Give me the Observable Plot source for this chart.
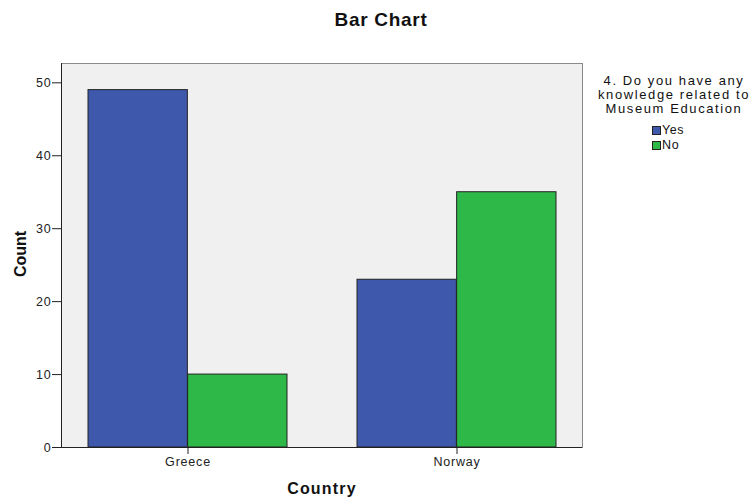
<!DOCTYPE html>
<html><head><meta charset="utf-8">
<script src="https://cdn.jsdelivr.net/npm/d3@7"></script>
<script src="https://cdn.jsdelivr.net/npm/@observablehq/plot@0.6"></script>
<style>
body{margin:0;background:#fff;}
#wrap{position:relative;width:751px;height:500px;font-family:"Liberation Sans",Arial,sans-serif;color:#111;}
#chart{position:absolute;left:0;top:0;}
.t{position:absolute;white-space:nowrap;}
#title{left:0;width:762px;text-align:center;top:9px;font-size:19px;font-weight:bold;letter-spacing:0.7px;}
#ylab{left:21px;top:254px;font-size:16px;font-weight:bold;transform:translate(-50%,-50%) rotate(-90deg);}
#xlab{left:322px;top:489px;font-size:16px;font-weight:bold;letter-spacing:1.2px;transform:translate(-50%,-50%);}
#leg{left:674px;top:74px;transform:translateX(-50%);text-align:center;font-size:13px;line-height:14px;letter-spacing:1.6px;}
.sw{position:absolute;left:652px;width:7px;height:7px;border:1px solid #222;}
.sl{position:absolute;left:662px;font-size:12.5px;letter-spacing:0.6px;line-height:13px;}
</style></head><body>
<div id="wrap">
<div id="chart"></div>
<div class="t" id="title">Bar Chart</div>
<div class="t" id="ylab">Count</div>
<div class="t" id="xlab">Country</div>
<div class="t" id="leg"></div>
<div id="legitems"></div>
</div>
<script>
const countries = ["Greece", "Norway"];
const answers = ["Yes", "No"];
const yesCounts = [49, 23];
const noCounts = [10, 35];
const yTicks = [0, 10, 20, 30, 40, 50];
const colors = ["#3E58AC", "#2EB848"];
const legendTitle = ["4. Do you have any", "knowledge related to", "Museum Education"];
const chartTitle = "Bar Chart";
const yTitle = "Count";
const xTitle = "Country";

const data = countries.flatMap((c, i) => [
  {country: c, answer: answers[0], count: yesCounts[i]},
  {country: c, answer: answers[1], count: noCounts[i]}
]);

const W = 751, H = 500, mL = 61, mR = 169, mT = 63, mB = 53;
const pIn = 0.261, pOut = 0.0965;
const step = (W - mL - mR) / (countries.length - pIn + 2 * pOut);
const half = step * (1 - pIn) / 2;

const plot = Plot.plot({
  width: W, height: H,
  marginLeft: mL, marginRight: mR, marginTop: mT, marginBottom: mB,
  style: {fontFamily: '"Liberation Sans", Arial, sans-serif', fontSize: "12.5px", color: "#222", letterSpacing: "0.8px", background: "transparent"},
  x: {type: "band", domain: countries, paddingInner: pIn, paddingOuter: pOut},
  y: {domain: [0, 52.65]},
  color: {domain: answers, range: colors},
  marks: [
    Plot.frame({fill: "#f0f0f0", stroke: "#8a8a8a"}),
    Plot.barY(data.filter(d => d.answer === answers[0]), {x: "country", y: "count", fill: "answer", stroke: "#222", strokeWidth: 1, insetLeft: 0, insetRight: half}),
    Plot.barY(data.filter(d => d.answer === answers[1]), {x: "country", y: "count", fill: "answer", stroke: "#222", strokeWidth: 1, insetLeft: half, insetRight: 0}),
    Plot.frame({anchor: "left", stroke: "#222"}),
    Plot.ruleY([0], {stroke: "#222"}),
    Plot.axisY(yTicks, {tickSize: 9, tickPadding: 1, label: null, stroke: "#222"}),
    Plot.axisX(countries, {tickSize: 7, tickPadding: 3, label: null, stroke: "#222"})
  ]
});
document.getElementById("chart").appendChild(plot);
document.getElementById("title").textContent = chartTitle;
document.getElementById("ylab").textContent = yTitle;
document.getElementById("xlab").textContent = xTitle;
document.getElementById("leg").innerHTML = legendTitle.join("<br>");
const li = document.getElementById("legitems");
answers.forEach((a, i) => {
  const s = document.createElement("div");
  s.className = "sw"; s.style.top = (126 + i * 15) + "px"; s.style.background = colors[i];
  li.appendChild(s);
  const l = document.createElement("div");
  l.className = "sl"; l.style.top = (123.5 + i * 15) + "px"; l.textContent = a;
  li.appendChild(l);
});
</script>
</body></html>
